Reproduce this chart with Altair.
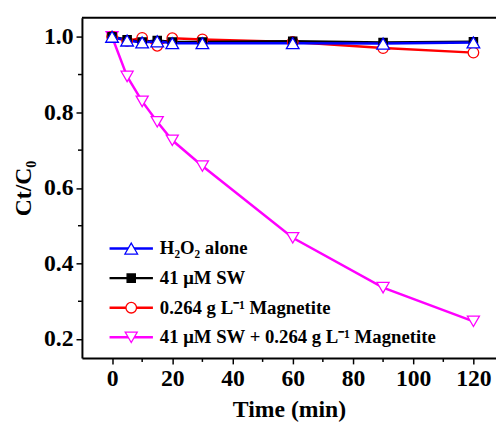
import altair as alt
import pandas as pd

# ---- data ----
time_min = [0, 5, 10, 15, 20, 30, 60, 90, 120]
h2o2_alone = [1.0, 0.990, 0.985, 0.988, 0.983, 0.983, 0.983, 0.982, 0.985]
sw_41 = [1.0, 0.992, 0.986, 0.990, 0.986, 0.986, 0.988, 0.985, 0.987]
magnetite = [1.0, 0.989, 0.997, 0.976, 0.996, 0.993, 0.986, 0.970, 0.958]
sw_magnetite = [1.0, 0.895, 0.829, 0.775, 0.726, 0.658, 0.468, 0.336, 0.247]

series_labels = ["H₂O₂ alone", "41 μM SW", "0.264 g L⁻¹ Magnetite",
                 "41 μM SW + 0.264 g L⁻¹ Magnetite"]
series_values = [h2o2_alone, sw_41, magnetite, sw_magnetite]
series_colors = ["#0000FF", "#000000", "#FF0000", "#FF00FF"]
series_shapes = ["triangle-up", "square", "circle", "triangle-down"]
series_fills = ["white", "black", "white", "white"]
series_sizes = [165, 70, 115, 150]

x_ticks = [0, 20, 40, 60, 80, 100, 120]
x_minor = [10, 30, 50, 70, 90, 110]
y_ticks = [0.2, 0.4, 0.6, 0.8, 1.0]
y_minor = [0.3, 0.5, 0.7, 0.9]

W, H = 420, 345
FONT = "Liberation Serif"

xscale = alt.Scale(domain=[-10, 127.5], nice=False, zero=False)
yscale = alt.Scale(domain=[0.15, 1.05], nice=False, zero=False)
xaxis = alt.Axis(values=x_ticks, format="d", title="Time (min)", titlePadding=7)
yaxis = alt.Axis(values=y_ticks, format=".1f", title="Ct/C₀", titlePadding=8)

def X():
    return alt.X("time:Q", scale=xscale, axis=xaxis)

def Y():
    return alt.Y("value:Q", scale=yscale, axis=yaxis)

data_layers = []
draw_order = [3, 2, 1, 0]
for i in draw_order:
    df = pd.DataFrame({"time": time_min, "value": series_values[i]})
    data_layers.append(
        alt.Chart(df).mark_line(color=series_colors[i], strokeWidth=2.5).encode(x=X(), y=Y())
    )
for i in draw_order:
    df = pd.DataFrame({"time": time_min, "value": series_values[i]})
    data_layers.append(
        alt.Chart(df).mark_point(shape=series_shapes[i], color=series_colors[i],
                                 fill=series_fills[i], filled=False, opacity=1,
                                 fillOpacity=1, strokeWidth=1.3,
                                 size=series_sizes[i]).encode(x=X(), y=Y())
    )

# minor ticks
mx = alt.Chart(pd.DataFrame({"time": x_minor})).mark_rule(
    color="black", strokeWidth=1.5).encode(x=X(), y=alt.value(H), y2=alt.value(H + 4))
my = alt.Chart(pd.DataFrame({"value": y_minor})).mark_rule(
    color="black", strokeWidth=1.5).encode(y=Y(), x=alt.value(0), x2=alt.value(-4))
data_layers += [mx, my]

main = alt.layer(*data_layers)

# legend built from the series lists
leg_df = pd.DataFrame({
    "label": series_labels,
    "row": [0, 1, 2, 3],
    "color": series_colors,
    "shape": series_shapes,
    "fill": series_fills,
    "size": series_sizes,
})
ly = alt.Y("row:Q", scale=alt.Scale(domain=[0, 3], range=[234, 324]), axis=None)
leg_base = alt.Chart(leg_df)
leg_line = leg_base.mark_rule(strokeWidth=2.5).encode(
    x=alt.value(28), x2=alt.value(72), y=ly,
    color=alt.Color("color:N", scale=None))
leg_pt = leg_base.mark_point(opacity=1, fillOpacity=1, strokeWidth=1.3).encode(
    x=alt.value(50), y=ly,
    color=alt.Color("color:N", scale=None),
    fill=alt.Fill("fill:N", scale=None),
    shape=alt.Shape("shape:N", scale=None),
    size=alt.Size("size:Q", scale=None))
leg_txt = leg_base.mark_text(align="left", baseline="middle", font=FONT,
                             fontWeight="bold", fontSize=19, color="black").encode(
    x=alt.value(79), y=ly, text="label:N")
top_frame = alt.Chart(pd.DataFrame({"k": [0]})).mark_rule(
    color="black", strokeWidth=2).encode(x=alt.value(0), x2=alt.value(W), y=alt.value(0))

legend = alt.layer(leg_line, leg_pt, leg_txt, top_frame)

chart = alt.layer(main, legend).resolve_scale(
    x="independent", y="independent"
).properties(
    width=W, height=H,
    autosize=alt.AutoSizeParams(type="none"),
    padding={"left": 75, "top": 7, "right": 0, "bottom": 66},
).configure_view(
    stroke=None
).configure_axis(
    grid=False,
    labelFont=FONT, labelFontWeight="bold", labelFontSize=24, labelColor="black",
    titleFont=FONT, titleFontWeight="bold", titleFontSize=24, titleColor="black",
    tickColor="black", tickSize=6, tickWidth=1.5,
    domainColor="black", domainWidth=2, labelPadding=3,
)

chart.save("out.html", embed_options={"renderer": "svg", "actions": False})
